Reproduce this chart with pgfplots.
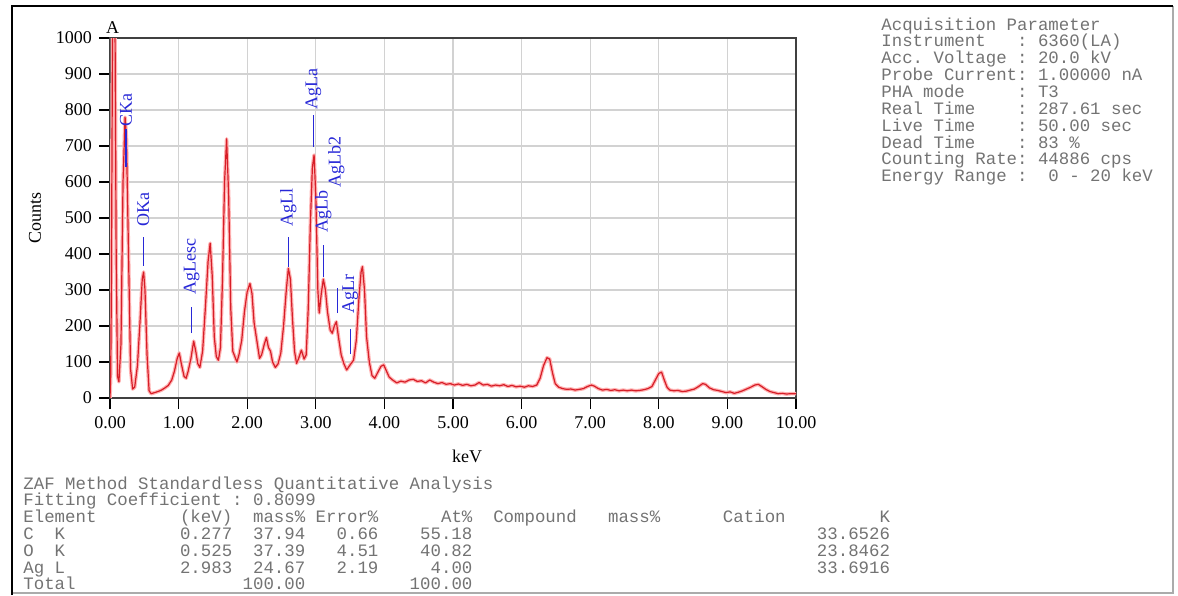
\documentclass[border=0pt]{standalone}
\usepackage{fontspec}
\setmainfont{Liberation Serif}
\newfontfamily\monofont{Liberation Mono}
\usepackage{pgfplots}
\pgfplotsset{compat=1.18}
\definecolor{lblue}{RGB}{40,40,215}
\definecolor{spec}{RGB}{215,30,40}
\definecolor{txtgray}{RGB}{115,115,115}
\begin{document}
\begin{tikzpicture}
\useasboundingbox (0,0) rectangle (589pt,-297.5pt);
\begin{axis}[
  at={(55pt,-199pt)}, anchor=south west, scale only axis,
  width=343pt, height=180pt,
  xmin=0, xmax=10, ymin=0, ymax=1000,
  xtick={0,1,...,10}, ytick={0,100,...,1000},
  grid=major, major grid style={gray!35, line width=0.6pt},
  axis line style={black!75, line width=0.8pt},
  tick align=outside, xtick pos=bottom, ytick pos=left,
  major tick length=5.5pt,
  tick style={black, line width=0.6pt},
  x tick label style={/pgf/number format/fixed, /pgf/number format/fixed zerofill, /pgf/number format/precision=2},
  y tick label style={/pgf/number format/fixed, /pgf/number format/1000 sep={}},
  /pgf/number format/assume math mode=true,
  tick label style={font=\fontsize{9}{10}\selectfont},
  clip mode=individual,
]
\pgfplotstableread{
x y
0.00 0
0.01 60
0.02 300
0.04 1150
0.07 1150
0.09 400
0.11 60
0.13 45
0.16 150
0.19 600
0.22 780
0.24 720
0.27 400
0.30 80
0.33 25
0.36 30
0.40 90
0.44 220
0.47 330
0.49 350
0.51 300
0.54 120
0.57 20
0.60 12
0.65 15
0.70 18
0.75 22
0.80 28
0.85 35
0.90 50
0.94 75
0.98 110
1.01 125
1.04 95
1.08 60
1.11 55
1.14 75
1.18 110
1.22 158
1.25 130
1.28 95
1.31 85
1.35 130
1.39 250
1.43 380
1.46 430
1.49 340
1.52 170
1.55 115
1.58 105
1.61 140
1.64 330
1.67 600
1.70 720
1.73 560
1.76 250
1.79 130
1.82 115
1.85 100
1.88 120
1.92 160
1.96 240
2.00 295
2.04 318
2.07 290
2.10 210
2.14 160
2.18 110
2.21 120
2.25 150
2.28 168
2.31 140
2.34 130
2.37 100
2.41 85
2.45 95
2.49 125
2.53 200
2.57 300
2.60 360
2.63 330
2.66 220
2.69 130
2.72 96
2.75 110
2.79 133
2.83 108
2.86 120
2.89 250
2.92 480
2.95 640
2.975 675
3.00 560
3.03 300
3.05 236
3.08 290
3.11 330
3.14 300
3.17 240
3.21 189
3.24 180
3.27 200
3.30 212
3.33 170
3.37 120
3.41 95
3.45 78
3.50 92
3.55 105
3.59 160
3.63 280
3.66 350
3.68 365
3.71 300
3.74 170
3.78 100
3.82 62
3.86 55
3.90 70
3.95 88
3.99 92
4.03 75
4.07 58
4.12 50
4.18 42
4.24 47
4.30 44
4.36 50
4.42 52
4.48 46
4.54 48
4.60 42
4.66 50
4.72 44
4.78 40
4.84 43
4.90 38
4.96 40
5.02 36
5.08 39
5.14 35
5.20 38
5.26 34
5.32 36
5.38 43
5.44 36
5.50 38
5.56 33
5.62 36
5.68 34
5.74 37
5.80 32
5.86 35
5.92 31
5.98 33
6.04 30
6.10 34
6.16 32
6.22 36
6.27 55
6.32 90
6.37 112
6.41 108
6.45 70
6.49 40
6.54 30
6.60 26
6.66 24
6.72 25
6.78 22
6.84 24
6.90 26
6.96 32
7.02 36
7.06 33
7.12 26
7.18 22
7.24 24
7.30 21
7.36 23
7.42 20
7.48 22
7.54 20
7.60 22
7.66 20
7.72 21
7.78 23
7.84 26
7.90 32
7.95 50
8.00 68
8.04 72
8.08 50
8.12 30
8.16 22
8.22 20
8.28 21
8.34 18
8.40 19
8.46 22
8.52 25
8.58 32
8.64 40
8.68 38
8.74 28
8.80 23
8.86 21
8.92 18
8.98 15
9.04 17
9.10 13
9.16 16
9.22 20
9.28 25
9.34 30
9.40 36
9.45 38
9.50 32
9.56 24
9.62 18
9.68 15
9.74 12
9.80 13
9.86 11
9.92 12
10.00 12
}\spectrum
\addplot[red!30, line width=1.8pt, line join=round] table {\spectrum};
\addplot[spec, line width=0.6pt, line join=round] table {\spectrum};
% peak labels
\tikzset{pl/.style={rotate=90, anchor=west, inner sep=0pt, text=lblue, font=\fontsize{9}{10}\selectfont}}
\node[pl] at (axis cs:0.233,752) {CKa};
\draw[lblue, line width=0.6pt] (axis cs:0.233,642) -- (axis cs:0.233,748);
\node[pl] at (axis cs:0.486,475) {OKa};
\draw[lblue, line width=0.6pt] (axis cs:0.486,367) -- (axis cs:0.486,447);
\node[pl] at (axis cs:1.19,286) {AgLesc};
\draw[lblue, line width=0.6pt] (axis cs:1.19,180) -- (axis cs:1.19,253);
\node[pl] at (axis cs:2.60,475) {AgLl};
\draw[lblue, line width=0.6pt] (axis cs:2.60,364) -- (axis cs:2.60,447);
\node[pl] at (axis cs:2.965,800) {AgLa};
\draw[lblue, line width=0.6pt] (axis cs:2.965,697) -- (axis cs:2.965,786);
\node[pl] at (axis cs:3.11,458) {AgLb};
\draw[lblue, line width=0.6pt] (axis cs:3.11,336) -- (axis cs:3.11,425);
\node[pl] at (axis cs:3.30,583) {AgLb2};
\draw[lblue, line width=0.6pt] (axis cs:3.32,236) -- (axis cs:3.32,305);
\node[pl] at (axis cs:3.50,234) {AgLr};
\draw[lblue, line width=0.6pt] (axis cs:3.50,122) -- (axis cs:3.50,192);
\node[font=\fontsize{9}{10}\selectfont, inner sep=0pt] at (axis cs:0.04,1028) {A};
\end{axis}
\begin{scope}[x=0.5pt,y=-0.5pt]
% frame
\draw[txtgray!60, line width=0.8pt] (1173,6) -- (1173,593) -- (12,593);
\draw[black, line width=1.1pt] (12,595) -- (12,6) -- (1173,6);
% axis labels
\node[rotate=90, font=\fontsize{9}{10}\selectfont, inner sep=0pt] at (35,218) {Counts};
\node[font=\fontsize{9}{10}\selectfont, inner sep=0pt] at (467,456) {keV};
% acquisition parameters
\begin{scope}[every node/.style={anchor=base west, inner sep=0pt, text=txtgray, font=\monofont\fontsize{8.7}{9}\selectfont}]
\node at (881,30) {Acquisition Parameter};
\node at (881,46.9) {Instrument~~~:~6360(LA)};
\node at (881,63.7) {Acc.~Voltage~:~20.0~kV};
\node at (881,80.6) {Probe~Current:~1.00000~nA};
\node at (881,97.4) {PHA~mode~~~~~:~T3};
\node at (881,114.3) {Real~Time~~~~:~287.61~sec};
\node at (881,131.1) {Live~Time~~~~:~50.00~sec};
\node at (881,148) {Dead~Time~~~~:~83~\%};
\node at (881,164.8) {Counting~Rate:~44886~cps};
\node at (881,181.7) {Energy~Range~:~~0~-~20~keV};
% table
\node at (23,489) {ZAF~Method~Standardless~Quantitative~Analysis};
\node at (23,505.8) {Fitting~Coefficient~:~0.8099};
\node at (23,522.6) {Element~~~~~~~~(keV)~~mass\%~Error\%~~~~~~At\%~~Compound~~~mass\%~~~~~~Cation~~~~~~~~~K};
\node at (23,539.4) {C~~K~~~~~~~~~~~0.277~~37.94~~~0.66~~~~55.18~~~~~~~~~~~~~~~~~~~~~~~~~~~~~~~~~33.6526};
\node at (23,556.2) {O~~K~~~~~~~~~~~0.525~~37.39~~~4.51~~~~40.82~~~~~~~~~~~~~~~~~~~~~~~~~~~~~~~~~23.8462};
\node at (23,573) {Ag~L~~~~~~~~~~~2.983~~24.67~~~2.19~~~~~4.00~~~~~~~~~~~~~~~~~~~~~~~~~~~~~~~~~33.6916};
\node at (23,589.8) {Total~~~~~~~~~~~~~~~~100.00~~~~~~~~~~100.00};
\end{scope}
\end{scope}
\end{tikzpicture}
\end{document}
